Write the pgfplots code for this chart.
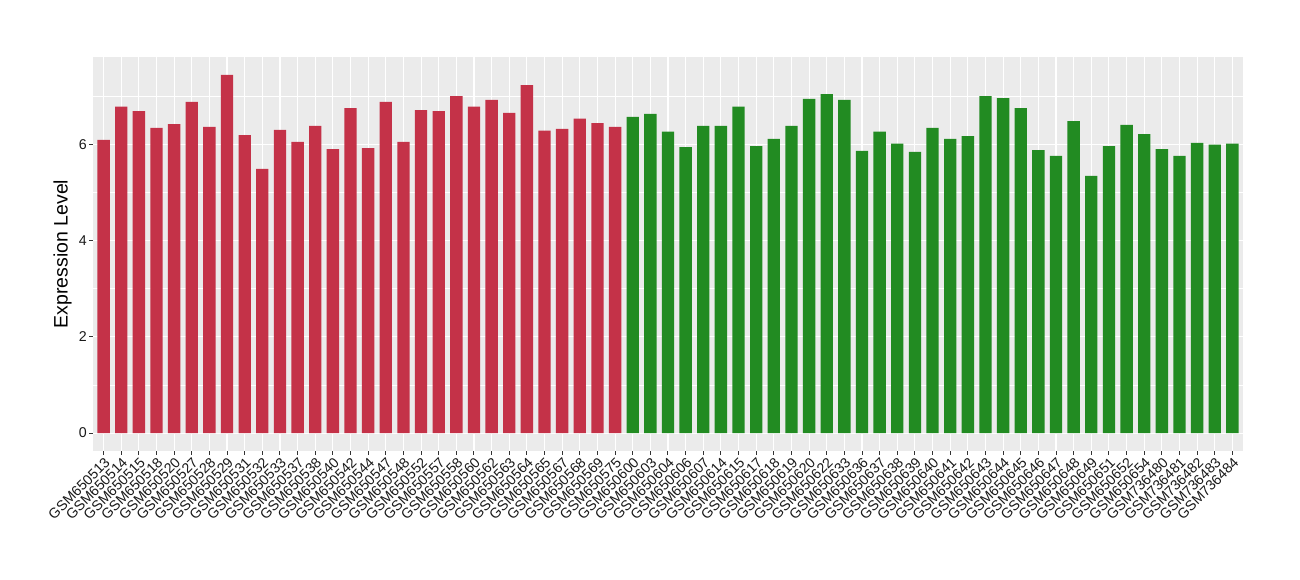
\documentclass[border=0pt]{standalone}
\usepackage{fontspec}
\setmainfont{Liberation Sans}
\usepackage{pgfplots}
\usepackage{pgfplotstable}
\pgfplotsset{compat=1.18}
\definecolor{panelbg}{RGB}{235,235,235}
\definecolor{barred}{RGB}{196,50,72}
\definecolor{bargreen}{RGB}{34,139,34}
\definecolor{tickgray}{RGB}{51,51,51}
\pgfplotstableread{
x y
0 6.09
1 6.78
2 6.69
3 6.34
4 6.42
5 6.88
6 6.36
7 7.44
8 6.19
9 5.49
10 6.30
11 6.05
12 6.38
13 5.90
14 6.75
15 5.92
16 6.88
17 6.05
18 6.71
19 6.69
20 7.00
21 6.78
22 6.92
23 6.65
24 7.23
25 6.28
26 6.32
27 6.53
28 6.44
29 6.36
}\redtable
\pgfplotstableread{
x y
30 6.57
31 6.63
32 6.26
33 5.94
34 6.38
35 6.38
36 6.78
37 5.96
38 6.11
39 6.38
40 6.94
41 7.04
42 6.92
43 5.86
44 6.26
45 6.01
46 5.84
47 6.34
48 6.11
49 6.17
50 7.00
51 6.96
52 6.75
53 5.88
54 5.76
55 6.48
56 5.34
57 5.96
58 6.40
59 6.21
60 5.90
61 5.76
62 6.03
63 5.99
64 6.01
}\greentable
\begin{document}
\begin{tikzpicture}[x=1pt,y=1pt]
\useasboundingbox (0,0) rectangle (1300,580);
\begin{axis}[
  at={(93pt,129pt)}, anchor=south west,
  width=1150pt, height=394pt, scale only axis,
  xmin=-0.6, xmax=64.6, ymin=-0.372, ymax=7.812,
  axis background/.style={fill=panelbg},
  axis line style={draw=none},
  xtick={0,...,64},
  xticklabels={GSM650513,GSM650514,GSM650515,GSM650518,GSM650520,GSM650527,GSM650528,GSM650529,GSM650531,GSM650532,GSM650533,GSM650537,GSM650538,GSM650540,GSM650542,GSM650544,GSM650547,GSM650548,GSM650552,GSM650557,GSM650558,GSM650560,GSM650562,GSM650563,GSM650564,GSM650565,GSM650567,GSM650568,GSM650569,GSM650575,GSM650600,GSM650603,GSM650604,GSM650606,GSM650607,GSM650614,GSM650615,GSM650617,GSM650618,GSM650619,GSM650620,GSM650622,GSM650633,GSM650636,GSM650637,GSM650638,GSM650639,GSM650640,GSM650641,GSM650642,GSM650643,GSM650644,GSM650645,GSM650646,GSM650647,GSM650648,GSM650649,GSM650651,GSM650652,GSM650654,GSM736480,GSM736481,GSM736482,GSM736483,GSM736484},
  ytick={0,2,4,6},
  minor ytick={1,3,5,7},
  grid=both,
  major grid style={white, line width=1.1pt},
  minor grid style={white, line width=0.55pt},
  tick style={tickgray, line width=1pt},
  major tick length=4pt,
  minor tick length=0pt,
  tick align=outside,
  xtick pos=bottom, ytick pos=left,
  /pgf/number format/assume math mode=true,
  x tick label style={rotate=45, anchor=north east, font=\fontsize{14.2}{16}\selectfont, inner sep=1pt, text=black!90},
  y tick label style={font=\fontsize{14.2}{16}\selectfont, inner sep=2pt, text=black!90},
  ylabel={Expression Level},
  ylabel style={at={(axis description cs:-0.0183,0.5)}, anchor=south, inner sep=0pt, font=\fontsize{19.5}{22}\selectfont},
  ybar, bar width=0.7, bar shift=0pt,
]
\addplot[draw=none, fill=barred] table[x=x,y=y] {\redtable};
\addplot[draw=none, fill=bargreen] table[x=x,y=y] {\greentable};
\end{axis}
\end{tikzpicture}
\end{document}
